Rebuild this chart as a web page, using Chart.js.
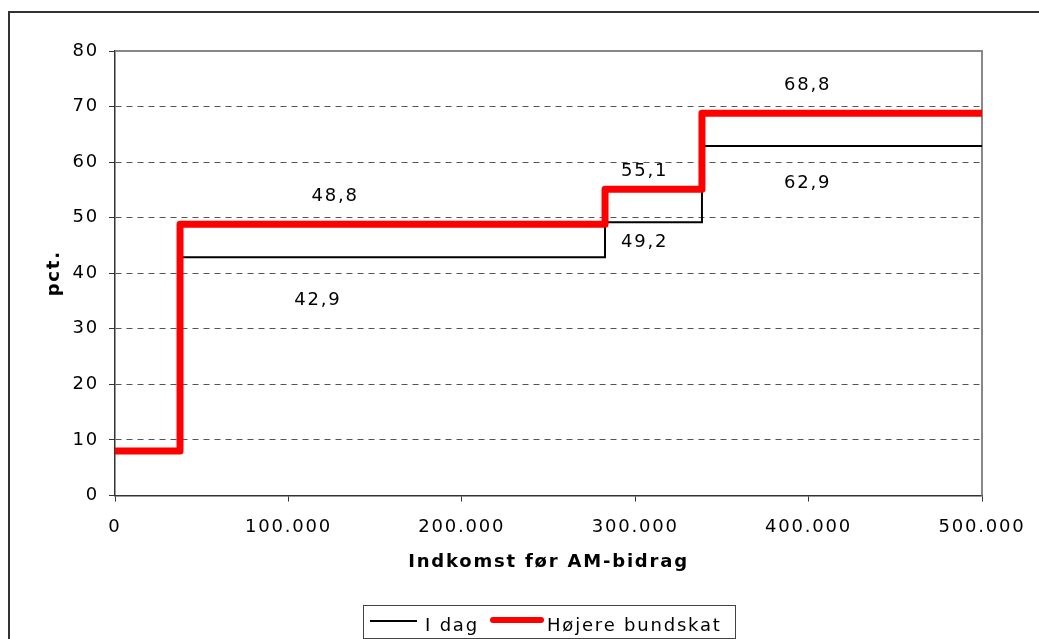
<!DOCTYPE html>
<html>
<head>
<meta charset="utf-8">
<script src="https://cdn.jsdelivr.net/npm/chart.js@4"></script>
<style>
    body { margin: 0; background: #fff; }
</style>
</head>
<body>
<canvas id="chart" width="1039" height="639"></canvas>
<script>
// data
const incomeSteps = [0, 37500, 282600, 338500, 500000];
const iDag = [8, 42.9, 49.2, 62.9, 62.9];
const hojereBundskat = [8, 48.8, 55.1, 68.8, 68.8];
const xTicks = [0, 100000, 200000, 300000, 400000, 500000];
const yTicks = [0, 10, 20, 30, 40, 50, 60, 70, 80];

// value labels in the plot, anchored in data units
const valueLabels = ['48,8', '42,9', '55,1', '49,2', '68,8', '62,9'];
const labelAnchors = [[127000, 53.9], [117000, 35.2], [305500, 58.3], [305500, 45.6], [399500, 73.8], [399500, 56.1]];

const FONT = "'DejaVu Sans', Verdana, sans-serif";
const SPACING = '1.8px';

// 100000 -> 100.000
function danish(v) {
    return String(v).replace(/\B(?=(\d{3})+(?!\d))/g, '.');
}

// wider letters like the original
const spacingPlugin = {
    id: 'spacing',
    beforeUpdate(chart) { chart.ctx.letterSpacing = SPACING; },
    beforeDraw(chart) { chart.ctx.letterSpacing = SPACING; }
};

// grey top and right edge of the plot + outer frame
const framePlugin = {
    id: 'frame',
    beforeDatasetsDraw(chart) {
        const {ctx, chartArea: a} = chart;
        ctx.save();
        ctx.strokeStyle = '#888';
        ctx.lineWidth = 2;
        ctx.beginPath();
        ctx.moveTo(a.left, a.top);
        ctx.lineTo(a.right, a.top);
        ctx.lineTo(a.right, a.bottom);
        ctx.stroke();
        ctx.restore();
    },
    afterDraw(chart) {
        const ctx = chart.ctx;
        ctx.save();
        ctx.strokeStyle = '#333';
        ctx.lineWidth = 2;
        ctx.beginPath();
        ctx.moveTo(9, 660);
        ctx.lineTo(9, 12);
        ctx.lineTo(1060, 12);
        ctx.stroke();
        ctx.restore();
    }
};

// numbers written next to the steps
const valueLabelPlugin = {
    id: 'valueLabels',
    afterDatasetsDraw(chart) {
        const {ctx, scales} = chart;
        ctx.save();
        ctx.letterSpacing = SPACING;
        ctx.font = '18px ' + FONT;
        ctx.fillStyle = '#000';
        ctx.textAlign = 'center';
        ctx.textBaseline = 'middle';
        valueLabels.forEach((t, i) => {
            ctx.fillText(t, scales.x.getPixelForValue(labelAnchors[i][0]), scales.y.getPixelForValue(labelAnchors[i][1]));
        });
        ctx.restore();
    }
};

// boxed legend under the axis title
const boxLegendPlugin = {
    id: 'boxLegend',
    afterDraw(chart) {
        const ctx = chart.ctx;
        const ds = chart.data.datasets;
        ctx.save();
        ctx.letterSpacing = SPACING;
        ctx.strokeStyle = '#444';
        ctx.lineWidth = 1;
        ctx.strokeRect(363.5, 605.5, 372, 33);

        ctx.font = '18px ' + FONT;
        ctx.fillStyle = '#000';
        ctx.textBaseline = 'alphabetic';

        ctx.strokeStyle = ds[0].borderColor;
        ctx.lineWidth = ds[0].borderWidth;
        ctx.beginPath();
        ctx.moveTo(370, 621);
        ctx.lineTo(417, 621);
        ctx.stroke();
        ctx.fillText(ds[0].label, 425, 631);

        ctx.strokeStyle = ds[1].borderColor;
        ctx.lineWidth = 6;
        ctx.lineCap = 'round';
        ctx.beginPath();
        ctx.moveTo(493, 620);
        ctx.lineTo(541, 620);
        ctx.stroke();
        ctx.fillText(ds[1].label, 547, 631);
        ctx.restore();
    }
};

const chart = document.querySelector('#chart').getContext('2d');

new Chart(chart, {
    type: 'line',
    data: {
        datasets: [
            {
                label: 'I dag',
                data: incomeSteps.map((x, i) => ({x: x, y: iDag[i]})),
                borderColor: '#000',
                borderWidth: 2,
                stepped: true,
                pointRadius: 0,
                fill: false,
                order: 1
            },
            {
                label: 'Højere bundskat',
                data: incomeSteps.map((x, i) => ({x: x, y: hojereBundskat[i]})),
                borderColor: '#ff0000',
                borderWidth: 7,
                borderJoinStyle: 'round',
                stepped: true,
                pointRadius: 0,
                fill: false,
                order: 0
            }
        ]
    },
    options: {
        responsive: false,
        animation: false,
        layout: {
            padding: {left: 8, top: 51, right: 57, bottom: 57.5}
        },
        plugins: {
            legend: {display: false},
            tooltip: {enabled: false}
        },
        scales: {
            x: {
                type: 'linear',
                min: 0,
                max: 500000,
                afterBuildTicks: s => { s.ticks = xTicks.map(v => ({value: v})); },
                afterFit: s => {
                    s.height = 86;
                    s.paddingLeft = 0;
                    s.paddingRight = 0;
                },
                grid: {drawOnChartArea: false, tickLength: 6, tickColor: '#333'},
                border: {color: '#333', width: 1.5},
                ticks: {
                    autoSkip: false,
                    maxRotation: 0,
                    padding: 15,
                    color: '#000',
                    font: {family: FONT, size: 18},
                    callback: v => danish(v)
                },
                title: {
                    display: true,
                    text: 'Indkomst før AM-bidrag',
                    color: '#000',
                    font: {family: FONT, size: 18, weight: 'bold'},
                    padding: {top: 0, bottom: 8}
                }
            },
            y: {
                min: 0,
                max: 80,
                afterBuildTicks: s => { s.ticks = yTicks.map(v => ({value: v})); },
                afterFit: s => {
                    s.width = 107;
                    s.paddingTop = 0;
                    s.paddingBottom = 0;
                },
                grid: {
                    color: c => (c.tick.value === 0 || c.tick.value === 80) ? 'rgba(0,0,0,0)' : '#555',
                    tickLength: 6,
                    tickColor: '#333',
                    lineWidth: 1
                },
                border: {color: '#333', width: 1.5, dash: [6, 5]},
                ticks: {
                    padding: 10,
                    color: '#000',
                    font: {family: FONT, size: 18}
                },
                title: {
                    display: true,
                    text: 'pct.',
                    color: '#000',
                    font: {family: FONT, size: 18, weight: 'bold'},
                    padding: {top: 36, bottom: 0}
                }
            }
        }
    },
    plugins: [spacingPlugin, framePlugin, valueLabelPlugin, boxLegendPlugin]
});
</script>
</body>
</html>
